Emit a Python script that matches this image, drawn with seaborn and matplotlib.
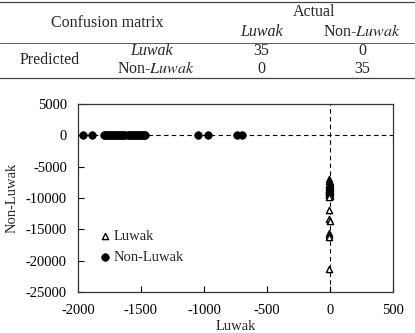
import matplotlib
matplotlib.use('Agg')
import matplotlib.pyplot as plt
from matplotlib.lines import Line2D
import numpy as np
import pandas as pd
import seaborn as sns

# confusion matrix (top table)
class_names = ['Luwak', 'Non-Luwak']
conf_matrix = [[35, 0], [0, 35]]

# scatter scores: Luwak model score (x) vs Non-Luwak model score (y)
luwak_x = [-8, -5, -3, -6, -2, -7, -4, -1, -9, -5, -3, -6, -2, -4, -7,
           -5, -3, -8, -6, -2, -4, -5, -3, -6, -7, -4, -2, -5,
           -4, -6, -3, -7, -5, -6, -4]
luwak_y = [-7000, -7300, -7500, -7700, -7800, -7900, -8000, -8100, -8200, -8300,
           -8400, -8500, -8550, -8600, -8700, -8800, -8850, -8900, -9000, -9050,
           -9100, -9200, -9300, -9400, -9500, -9600, -9700, -9800,
           -11900, -13300, -13700, -15600, -15900, -16300, -21300]
nonluwak_x = [-1960, -1885, -1795, -1782, -1771, -1760, -1748, -1739, -1727, -1715,
              -1706, -1694, -1683, -1671, -1662, -1650, -1641, -1628, -1606, -1594,
              -1583, -1572, -1560, -1548, -1539, -1527, -1515, -1503, -1490, -1478,
              -1468, -1050, -968, -740, -702]
nonluwak_y = [0] * len(nonluwak_x)

df = pd.concat([
    pd.DataFrame({'x': luwak_x, 'y': luwak_y, 'cls': 'Luwak'}),
    pd.DataFrame({'x': nonluwak_x, 'y': nonluwak_y, 'cls': 'Non-Luwak'}),
])

sns.set_style('ticks')
plt.rcParams['font.family'] = ['Liberation Serif', 'DejaVu Serif']
plt.rcParams['mathtext.fontset'] = 'stix'
plt.rcParams['axes.unicode_minus'] = False

fig = plt.figure(figsize=(4.15, 3.33), dpi=100)

# ---- table ----
fs = 11.5
def hline(y, x0=0.0, x1=1.0, lw=0.9):
    fig.add_artist(Line2D([x0, x1], [y, y], transform=fig.transFigure,
                          color='#444444', lw=lw))

hline(1 - 2 / 333)
hline(1 - 43 / 333, lw=0.6)
hline(1 - 78 / 333)

def px(xp, yp):
    return xp / 415, 1 - yp / 333

fig.text(*px(107, 23), 'Confusion matrix', ha='center', va='center', fontsize=fs)
fig.text(*px(314, 12), 'Actual', ha='center', va='center', fontsize=fs)
col_x = [261, 362]
row_y = [51, 69]
fig.text(*px(262, 32), 'Luwak', ha='center', va='center', fontsize=fs, style='italic')
fig.text(*px(362, 32), 'Non-$\\it{Luwak}$', ha='center', va='center', fontsize=fs)
fig.text(*px(50, 60), 'Predicted', ha='center', va='center', fontsize=fs)
fig.text(*px(151, row_y[0]), 'Luwak', ha='center', va='center', fontsize=fs, style='italic')
fig.text(*px(156, row_y[1]), 'Non-$\\it{Luwak}$', ha='center', va='center', fontsize=fs)
for i in range(2):
    for j in range(2):
        fig.text(*px(col_x[j], row_y[i]), str(conf_matrix[i][j]),
                 ha='center', va='center', fontsize=fs)

# ---- scatter ----
ax = fig.add_axes([78 / 415, 1 - 292 / 333, 315 / 415, 188 / 333])
ax.axhline(0, color='black', lw=0.8, ls=(0, (4, 3)), zorder=1)
ax.axvline(0, color='black', lw=0.8, ls=(0, (4, 3)), zorder=1)
sns.scatterplot(data=df[df.cls == 'Luwak'], x='x', y='y', marker='^', s=20,
                facecolor='white', edgecolor='black', linewidth=1.0,
                label='Luwak', ax=ax, zorder=3)
sns.scatterplot(data=df[df.cls == 'Non-Luwak'], x='x', y='y', marker='o', s=30,
                color='black', edgecolor='black', linewidth=0.5,
                label='Non-Luwak', ax=ax, zorder=3)

ax.set_xlim(-2000, 500)
ax.set_ylim(-25000, 5000)
ax.set_xticks(np.arange(-2000, 501, 500))
ax.set_yticks(np.arange(-25000, 5001, 5000))
ax.tick_params(direction='in', length=4, width=0.8, labelsize=10.5, colors='black')
ax.tick_params(axis='x', pad=9)
ax.tick_params(axis='y', pad=8)
for s in ax.spines.values():
    s.set_visible(True)
    s.set_linewidth(0.9)
    s.set_color('#333333')
ax.set_xlabel('Luwak', fontsize=10.5, labelpad=2)
ax.set_ylabel('Non-Luwak', fontsize=10.5, labelpad=5)
ax.legend(loc='upper left', bbox_to_anchor=(0.02, 0.40), frameon=False,
          fontsize=10.5, handletextpad=0.1, handlelength=1.0, labelspacing=0.5)

fig.savefig('out.png', dpi=100)
